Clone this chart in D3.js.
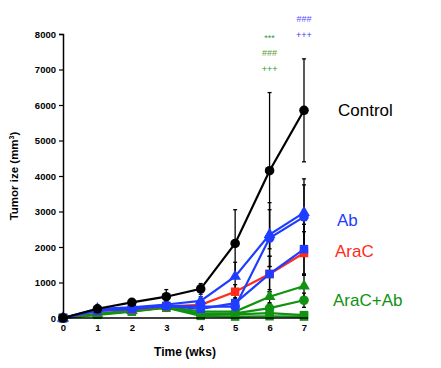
<!DOCTYPE html>
<html>
<head>
<meta charset="utf-8">
<script src="https://cdn.jsdelivr.net/npm/d3@7"></script>
<style>
  body { margin: 0; background: #fff; }
  svg text { font-family: Arial, "Liberation Sans", sans-serif; }
</style>
</head>
<body>
<div id="chart"></div>
<script>
// Tumor growth curves by treatment group
const weeks = [0, 1, 2, 3, 4, 5, 6, 7]
const yTicks = [0, 1000, 2000, 3000, 4000, 5000, 6000, 7000, 8000]

const controlVals = [0, 260, 440, 600, 820, 2100, 4150, 5850]
const controlErr  = [0, 60, 90, 200, 150, 950, 2200, 1450]

const abTriVals = [0, 260, 300, 380, 480, 1170, 2350, 2970]
const abTriErr  = [0, 40, 60, 100, 120, 400, 900, 950]
const abCirVals = [0, 240, 270, 350, 320, 320, 2250, 2850]
const abCirErr  = [0, 40, 60, 100, 100, 200, 800, 900]
const abSqVals  = [0, 200, 250, 340, 260, 420, 1240, 1940]
const abSqErr   = [0, 40, 50, 80, 80, 150, 500, 700]

const araCVals = [0, 200, 240, 330, 370, 740, 1240, 1830]
const araCErr  = [0, 40, 50, 80, 80, 200, 500, 600]

const comboTriVals = [0, 120, 210, 320, 180, 180, 600, 900]
const comboTriErr  = [0, 30, 40, 60, 60, 80, 200, 300]
const comboCirVals = [0, 110, 200, 300, 120, 130, 280, 500]
const comboCirErr  = [0, 30, 40, 60, 50, 60, 150, 200]
const comboSqVals  = [0, 100, 190, 300, 100, 100, 140, 80]
const comboSqErr   = [0, 30, 40, 60, 40, 40, 60, 40]
const comboSq2Vals = [0, 90, 180, 290, 60, 40, 50, 40]
const comboSq2Err  = [0, 20, 30, 50, 30, 20, 30, 20]

const groupLabels = ["Control", "Ab", "AraC", "AraC+Ab"]
const groupLabelY = [5850, 2750, 1900, 500]

const black = "#000000", blue = "#1f3dff", red = "#ff2b1a", green = "#119211"

const series = [
  { vals: comboSq2Vals, err: comboSq2Err, color: green, shape: "square" },
  { vals: comboSqVals, err: comboSqErr, color: green, shape: "square" },
  { vals: comboCirVals, err: comboCirErr, color: green, shape: "circle" },
  { vals: comboTriVals, err: comboTriErr, color: green, shape: "triangle" },
  { vals: araCVals, err: araCErr, color: red, shape: "square" },
  { vals: abSqVals, err: abSqErr, color: blue, shape: "square" },
  { vals: abCirVals, err: abCirErr, color: blue, shape: "circle" },
  { vals: abTriVals, err: abTriErr, color: blue, shape: "triangle" },
  { vals: controlVals, err: controlErr, color: black, shape: "circle" }
]

const W = 441, H = 368
const margin = { top: 34, left: 63, right: 137, bottom: 50 }

const svg = d3.select("#chart").append("svg")
  .attr("width", W)
  .attr("height", H)

const x = d3.scaleLinear().domain([0, 7]).range([margin.left, 304])
const y = d3.scaleLinear().domain([0, 8000]).range([318, margin.top])

// error bars first so lines draw over them
series.forEach(s => {
  const g = svg.append("g")
  weeks.forEach((w, i) => {
    if (!s.err[i]) return
    const top = y(s.vals[i] + s.err[i])
    const bot = y(Math.max(0, s.vals[i] - s.err[i]))
    g.append("line")
      .attr("x1", x(w)).attr("x2", x(w))
      .attr("y1", top).attr("y2", bot)
      .attr("stroke", "#000").attr("stroke-width", 1.3)
    ;[top, bot].forEach(yy => {
      g.append("line")
        .attr("x1", x(w) - 2).attr("x2", x(w) + 2)
        .attr("y1", yy).attr("y2", yy)
        .attr("stroke", "#000").attr("stroke-width", 1.3)
    })
  })
})

const line = d3.line().x((d, i) => x(weeks[i])).y(d => y(d))

series.forEach(s => {
  svg.append("path")
    .datum(s.vals)
    .attr("d", line)
    .attr("fill", "none")
    .attr("stroke", s.color)
    .attr("stroke-width", 2.2)

  const sym = s.shape === "square" ? d3.symbolSquare
    : s.shape === "triangle" ? d3.symbolTriangle : d3.symbolCircle
  const size = s.shape === "triangle" ? 60 : 72
  svg.append("g").selectAll("path")
    .data(s.vals)
    .join("path")
    .attr("transform", (d, i) => `translate(${x(weeks[i])},${y(d)})`)
    .attr("d", d3.symbol(sym, size))
    .attr("fill", s.color)
})

// axes
const yAxis = svg.append("g")
  .attr("transform", `translate(${margin.left},0)`)
  .call(d3.axisLeft(y).tickValues(yTicks).tickSize(4).tickPadding(3).tickFormat(d3.format("d")))
const xAxis = svg.append("g")
  .attr("transform", `translate(0,318)`)
  .call(d3.axisBottom(x).tickValues(weeks).tickSize(0).tickPadding(6).tickFormat(d3.format("d")))

;[yAxis, xAxis].forEach(a => {
  a.select(".domain").attr("stroke", "#000").attr("stroke-width", 1.5)
  a.selectAll("line").attr("stroke", "#000").attr("stroke-width", 1.2)
  a.selectAll("text")
    .style("font-size", "9.5px")
    .style("font-weight", "bold")
    .attr("fill", "#000")
})
xAxis.select(".domain").attr("d", `M${x(0)},0H308`)

// axis titles
svg.append("text")
  .attr("transform", `translate(18,176) rotate(-90)`)
  .attr("text-anchor", "middle")
  .style("font-size", "11.5px")
  .style("font-weight", "bold")
  .text("Tumor ize (mm")
  .append("tspan").attr("dy", -4).style("font-size", "7px").text("3")
  .select(function() { return this.parentNode })
  .append("tspan").attr("dy", 4).text(")")

svg.append("text")
  .attr("x", 185).attr("y", 356)
  .attr("text-anchor", "middle")
  .style("font-size", "12px")
  .style("font-weight", "bold")
  .text("Time (wks)")

// group labels
const labelColors = [black, blue, red, green]
const labelX = [338, 337, 335, 333]
groupLabels.forEach((t, i) => {
  svg.append("text")
    .attr("x", labelX[i])
    .attr("y", y(groupLabelY[i]) + 6)
    .attr("fill", labelColors[i])
    .style("font-size", "17px")
    .text(t)
})

// significance marks
const sigRows = [
  { week: 6, text: "***", color: "#2f9a3a", y: 41 },
  { week: 6, text: "###", color: "#5a9a2a", y: 56 },
  { week: 6, text: "+++", color: "#1e9a2a", y: 72 },
  { week: 7, text: "###", color: "#5a50ff", y: 22 },
  { week: 7, text: "+++", color: "#3a3aff", y: 38 }
]
sigRows.forEach(r => {
  svg.append("text")
    .attr("x", x(r.week)).attr("y", r.y)
    .attr("text-anchor", "middle")
    .attr("fill", r.color)
    .style("font-size", "9px")
    .text(r.text)
})
</script>
</body>
</html>
